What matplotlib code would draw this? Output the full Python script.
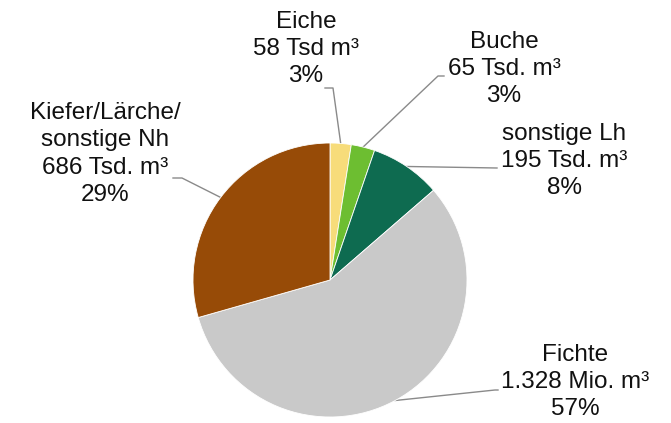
import numpy as np
import matplotlib.pyplot as plt

labels = ['Eiche', 'Buche', 'sonstige Lh', 'Fichte', 'Kiefer/Lärche/\nsonstige Nh']
volumes = [58, 65, 195, 1328, 686]  # Tsd. m³
value_text = ['58 Tsd m³', '65 Tsd. m³', '195 Tsd. m³', '1.328 Mio. m³', '686 Tsd. m³']
percent_text = ['3%', '3%', '8%', '57%', '29%']
colors = ['#F7DC7A', '#6DBE31', '#0E6B50', '#C9C9C9', '#974B07']

W, H = 671, 423
fig = plt.figure(figsize=(W / 100, H / 100), dpi=100)
ax = fig.add_axes([0, 0, 1, 1])

cx, cy, r = 330, H - 280, 137
wedges, _ = ax.pie(volumes, colors=colors, startangle=90, counterclock=False,
                   center=(cx, cy), radius=r, frame=True,
                   wedgeprops=dict(edgecolor='white', linewidth=0.6))
ax.set_xlim(0, W)
ax.set_ylim(0, H)
ax.set_aspect('equal')
ax.axis('off')

# label centres and leader-line elbows (pixel coords, y from top)
label_pos = [(306, 49), (504, 69), (564, 161), (575, 382), (105, 154)]
elbows = [[(325, 88), (333, 88)],
          [(444, 76), (438, 76)],
          [(497, 168)],
          [(498, 390), (495, 390)],
          [(173, 178), (182, 178)]]

font = dict(family='Liberation Sans', fontsize=17.5, color='#111111')
for w, lab, vt, pt, (lx, ly), el in zip(wedges, labels, value_text, percent_text, label_pos, elbows):
    ax.text(lx, H - ly, f'{lab}\n{vt}\n{pt}', ha='center', va='center',
            linespacing=1.32, **font)
    mid = np.deg2rad((w.theta1 + w.theta2) / 2)
    px, py = cx + r * np.cos(mid), cy + r * np.sin(mid)
    xs = [p[0] for p in el] + [px]
    ys = [H - p[1] for p in el] + [py]
    ax.plot(xs, ys, color='#8a8a8a', lw=1.0, zorder=0.5)

fig.savefig('out.png', dpi=100)
